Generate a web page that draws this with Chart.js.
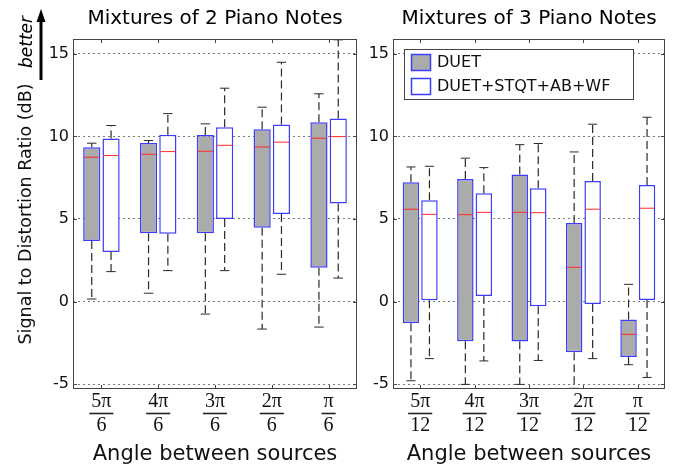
<!DOCTYPE html>
<html>
<head>
<meta charset="utf-8">
<script src="https://cdn.jsdelivr.net/npm/chart.js@4.4.0/dist/chart.umd.min.js"></script>
<style>
    html, body { margin: 0; padding: 0; background: #fff; }
    #wrap { position: relative; width: 688px; height: 466px; }
    canvas { position: absolute; top: 0; }
    #leftChart { left: 0; }
    #rightChart { left: 362px; }
</style>
</head>
<body>
<div id="wrap">
    <canvas id="leftChart" width="362" height="466"></canvas>
    <canvas id="rightChart" width="326" height="466"></canvas>
</div>
<script>
// SDR box plots - DUET vs DUET+STQT+AB+WF

const SANS = 'DejaVu Sans';
const SERIF = 'Liberation Serif';

const seriesNames = ['DUET', 'DUET+STQT+AB+WF'];
const yTickValues = [-5, 0, 5, 10, 15];
const yMin = -5.3;
const yMax = 15.9;

// Mixtures of 2 piano notes
const twoNoteLabels = [['5π', '6'], ['4π', '6'], ['3π', '6'], ['2π', '6'], ['π', '6']];
const twoDuetLow    = [0.15, 0.5, -0.76, -1.67, -1.55];
const twoDuetQ1     = [3.67, 4.13, 4.13, 4.47, 2.05];
const twoDuetMedian = [8.74, 8.92, 9.1, 9.36, 9.89];
const twoDuetQ3     = [9.34, 9.6, 10.09, 10.43, 10.86];
const twoDuetHigh   = [9.59, 9.75, 10.76, 11.77, 12.58];
const twoFullLow    = [1.81, 1.87, 1.87, 1.65, 1.42];
const twoFullQ1     = [3.0, 4.11, 5.0, 5.3, 5.93];
const twoFullMedian = [8.84, 9.08, 9.46, 9.65, 9.99];
const twoFullQ3     = [9.87, 10.1, 10.56, 10.72, 11.08];
const twoFullHigh   = [10.66, 11.38, 12.92, 14.49, 15.85];

// Mixtures of 3 piano notes
const threeNoteLabels = [['5π', '12'], ['4π', '12'], ['3π', '12'], ['2π', '12'], ['π', '12']];
const threeDuetLow    = [-4.8, -5.02, -5.02, -5.26, -3.83];
const threeDuetQ1     = [-1.32, -2.41, -2.43, -3.08, -3.36];
const threeDuetMedian = [5.59, 5.26, 5.4, 2.07, -1.99];
const threeDuetQ3     = [7.22, 7.42, 7.69, 4.76, -1.09];
const threeDuetHigh   = [8.15, 8.68, 9.5, 9.06, 1.04];
const threeFullLow    = [-3.46, -3.6, -3.57, -3.46, -4.6];
const threeFullQ1     = [0.07, 0.33, -0.29, -0.15, 0.09];
const threeFullMedian = [5.28, 5.4, 5.38, 5.59, 5.65];
const threeFullQ3     = [6.13, 6.55, 6.86, 7.3, 7.06];
const threeFullHigh   = [8.19, 8.11, 9.57, 10.74, 11.16];

const duetFill = '#ababab';
const fullFill = '#ffffff';
const boxBorder = '#3c3cff';

function makeBoxDataset(label, low, q1, median, q3, high, fill) {
    return {
        label: label,
        data: q1.map((v, i) => [v, q3[i]]),
        low: low,
        median: median,
        high: high,
        backgroundColor: fill,
        borderColor: boxBorder,
        borderWidth: 1.5,
        borderSkipped: false,
        categoryPercentage: 0.68,
        barPercentage: 0.89
    };
}

// whiskers, caps and medians drawn on top of the floating bars
const boxPlotPlugin = {
    id: 'boxPlot',
    afterDatasetsDraw(chart) {
        const ctx = chart.ctx;
        const y = chart.scales.y;
        chart.data.datasets.forEach((ds, i) => {
            chart.getDatasetMeta(i).data.forEach((bar, j) => {
                const x = bar.x;
                const half = bar.width / 2;
                const q1 = y.getPixelForValue(ds.data[j][0]);
                const q3 = y.getPixelForValue(ds.data[j][1]);
                const lo = y.getPixelForValue(ds.low[j]);
                const hi = y.getPixelForValue(ds.high[j]);
                const med = y.getPixelForValue(ds.median[j]);
                ctx.save();
                ctx.strokeStyle = '#2a2a2a';
                ctx.lineWidth = 1.2;
                ctx.setLineDash([8, 4]);
                ctx.beginPath();
                ctx.moveTo(x, q3); ctx.lineTo(x, hi);
                ctx.moveTo(x, q1); ctx.lineTo(x, lo);
                ctx.stroke();
                ctx.setLineDash([]);
                ctx.lineWidth = 1;
                ctx.beginPath();
                ctx.moveTo(x - half * 0.55, hi); ctx.lineTo(x + half * 0.55, hi);
                ctx.moveTo(x - half * 0.55, lo); ctx.lineTo(x + half * 0.55, lo);
                ctx.stroke();
                ctx.strokeStyle = '#ff2a2a';
                ctx.beginPath();
                ctx.moveTo(x - half + 1, med); ctx.lineTo(x + half - 1, med);
                ctx.stroke();
                ctx.restore();
            });
        });
    }
};

// box round the plot with inward ticks, and fraction bars under the x labels
const framePlugin = {
    id: 'frame',
    afterDraw(chart) {
        const ctx = chart.ctx;
        const area = chart.chartArea;
        const xs = chart.scales.x;
        const ys = chart.scales.y;
        ctx.save();
        ctx.strokeStyle = '#444';
        ctx.lineWidth = 1;
        ctx.strokeRect(area.left + 0.5, area.top + 0.5, area.right - area.left - 1, area.bottom - area.top - 1);
        ctx.beginPath();
        chart.data.labels.forEach((lbl, k) => {
            const px = Math.round(xs.getPixelForTick(k)) + 0.5;
            ctx.moveTo(px, area.top); ctx.lineTo(px, area.top + 4);
            ctx.moveTo(px, area.bottom); ctx.lineTo(px, area.bottom - 4);
        });
        yTickValues.forEach(v => {
            const py = Math.round(ys.getPixelForValue(v)) + 0.5;
            ctx.moveTo(area.left, py); ctx.lineTo(area.left + 4, py);
            ctx.moveTo(area.right, py); ctx.lineTo(area.right - 4, py);
        });
        ctx.stroke();

        // fraction bars
        const tickFont = xs.options.ticks.font;
        ctx.font = tickFont.size + 'px "' + tickFont.family + '"';
        ctx.strokeStyle = '#222';
        ctx.lineWidth = 1.6;
        const barY = xs.top + xs.options.ticks.padding + tickFont.size * tickFont.lineHeight;
        chart.data.labels.forEach((lbl, k) => {
            const px = xs.getPixelForTick(k);
            const w = Math.max(ctx.measureText(lbl[0]).width, ctx.measureText(lbl[1]).width) + 4;
            ctx.beginPath();
            ctx.moveTo(px - w / 2, barY); ctx.lineTo(px + w / 2, barY);
            ctx.stroke();
        });
        ctx.restore();
    }
};

const betterArrowPlugin = {
    id: 'betterArrow',
    afterDraw(chart) {
        const ctx = chart.ctx;
        ctx.save();
        ctx.strokeStyle = '#000';
        ctx.fillStyle = '#000';
        ctx.lineWidth = 3;
        ctx.beginPath();
        ctx.moveTo(41, 80); ctx.lineTo(41, 18);
        ctx.stroke();
        ctx.beginPath();
        ctx.moveTo(41, 9); ctx.lineTo(36.5, 22); ctx.lineTo(45.5, 22);
        ctx.closePath();
        ctx.fill();
        ctx.translate(28, 42);
        ctx.rotate(-Math.PI / 2);
        ctx.font = 'italic 17px "' + SANS + '"';
        ctx.textAlign = 'center';
        ctx.textBaseline = 'middle';
        ctx.fillText('better', 0, 0);
        ctx.restore();
    }
};

const boxLegendPlugin = {
    id: 'boxLegend',
    afterDraw(chart) {
        const ctx = chart.ctx;
        const area = chart.chartArea;
        const lx = area.left + 11;
        const ly = area.top + 10;
        ctx.save();
        ctx.fillStyle = '#fff';
        ctx.fillRect(lx, ly, 229, 50);
        ctx.strokeStyle = '#444';
        ctx.lineWidth = 1;
        ctx.strokeRect(lx + 0.5, ly + 0.5, 229, 50);
        ctx.font = '16px "' + SANS + '"';
        ctx.textBaseline = 'middle';
        chart.data.datasets.forEach((ds, i) => {
            const sy = ly + 5 + i * 24;
            ctx.fillStyle = ds.backgroundColor;
            ctx.fillRect(lx + 7, sy, 20, 17);
            ctx.strokeStyle = ds.borderColor;
            ctx.lineWidth = 1.5;
            ctx.strokeRect(lx + 7.5, sy + 0.5, 19, 16);
            ctx.fillStyle = '#111';
            ctx.fillText(ds.label, lx + 33, sy + 9);
        });
        ctx.restore();
    }
};

function buildChart(canvasId, title, labels, datasets, yAxisWidth, yTitle, padRight, extraPlugins) {
    const ctx = document.getElementById(canvasId);
    return new Chart(ctx, {
        type: 'bar',
        data: { labels: labels, datasets: datasets },
        options: {
            responsive: false,
            animation: false,
            events: [],
            layout: { padding: { left: 0, right: padRight, top: 0, bottom: 0 } },
            plugins: {
                legend: { display: false },
                tooltip: { enabled: false },
                title: {
                    display: true,
                    text: title,
                    fullSize: false,
                    color: '#000',
                    font: { family: SANS, size: 20, weight: 'normal', lineHeight: 22 / 20 },
                    padding: { top: 8, bottom: 9 }
                }
            },
            scales: {
                x: {
                    grid: { display: false, drawTicks: false },
                    border: { display: false },
                    ticks: {
                        color: '#111',
                        padding: 0,
                        maxRotation: 0,
                        autoSkip: false,
                        font: { family: SERIF, size: 20, lineHeight: 1.225 }
                    },
                    title: {
                        display: true,
                        text: 'Angle between sources',
                        color: '#111',
                        font: { family: SANS, size: 21, lineHeight: 1.0 },
                        padding: { top: 0, bottom: 1 }
                    },
                    afterFit: s => { s.height = 77; }
                },
                y: {
                    min: yMin,
                    max: yMax,
                    afterBuildTicks: s => { s.ticks = yTickValues.map(v => ({ value: v })); },
                    grid: { color: '#7a7a7a', lineWidth: 1, drawTicks: false },
                    border: { display: false, dash: [2, 3] },
                    ticks: {
                        color: '#111',
                        padding: 4,
                        font: { family: SANS, size: 16 }
                    },
                    title: {
                        display: !!yTitle,
                        text: yTitle || '',
                        color: '#111',
                        font: { family: SANS, size: 17.5, lineHeight: 1.2 },
                        padding: { top: 15.5, bottom: 0 }
                    },
                    afterFit: s => { s.width = yAxisWidth; }
                }
            }
        },
        plugins: [boxPlotPlugin, framePlugin].concat(extraPlugins)
    });
}

document.addEventListener('DOMContentLoaded', function() {
    buildChart('leftChart', 'Mixtures of 2 Piano Notes', twoNoteLabels, [
        makeBoxDataset(seriesNames[0], twoDuetLow, twoDuetQ1, twoDuetMedian, twoDuetQ3, twoDuetHigh, duetFill),
        makeBoxDataset(seriesNames[1], twoFullLow, twoFullQ1, twoFullMedian, twoFullQ3, twoFullHigh, fullFill)
    ], 73, 'Signal to Distortion Ratio (dB)', 5, [betterArrowPlugin]);

    buildChart('rightChart', 'Mixtures of 3 Piano Notes', threeNoteLabels, [
        makeBoxDataset(seriesNames[0], threeDuetLow, threeDuetQ1, threeDuetMedian, threeDuetQ3, threeDuetHigh, duetFill),
        makeBoxDataset(seriesNames[1], threeFullLow, threeFullQ1, threeFullMedian, threeFullQ3, threeFullHigh, fullFill)
    ], 31, null, 23, [boxLegendPlugin]);
});
</script>
</body>
</html>
